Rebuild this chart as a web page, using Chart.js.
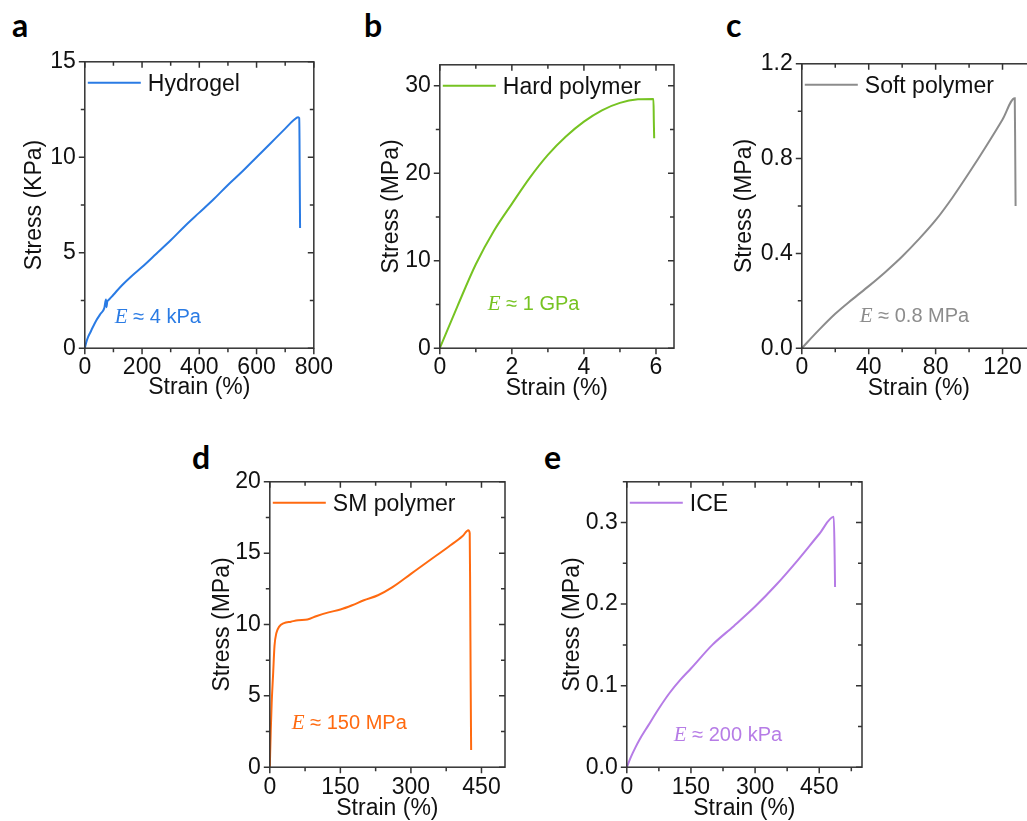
<!DOCTYPE html>
<html>
<head>
<meta charset="utf-8">
<script src="https://cdn.jsdelivr.net/npm/chart.js@4.4.1/dist/chart.umd.min.js"></script>
<style>
  html, body { margin: 0; padding: 0; background: #fff; width: 1027px; height: 821px; overflow: hidden; position: relative; }
  canvas { position: absolute; }
  .tag { position: absolute; font-family: Lato, 'Open Sans', sans-serif; font-weight: 700; font-size: 32px; line-height: 32px; color: #000; }
</style>
</head>
<body>
<div class="tag" style="left:12px;top:9px">a</div>
<div class="tag" style="left:364px;top:9px">b</div>
<div class="tag" style="left:726px;top:9px">c</div>
<div class="tag" style="left:192px;top:441px">d</div>
<div class="tag" style="left:544px;top:441px">e</div>

<canvas id="chartA"></canvas>
<canvas id="chartB"></canvas>
<canvas id="chartC"></canvas>
<canvas id="chartD"></canvas>
<canvas id="chartE"></canvas>

<script>
// --- data ---
const hydrogelStrain = [0, 5, 12, 20, 27, 40, 55, 68, 74, 76, 78, 85, 100, 130, 165, 200, 250, 300, 350, 400, 450, 500, 550, 600, 650, 700, 730, 745, 749, 750, 751, 752];
const hydrogelStress = [0, 0.3, 0.6, 0.85, 1.07, 1.45, 1.8, 2.1, 2.55, 2.15, 2.4, 2.55, 2.8, 3.3, 3.8, 4.25, 4.95, 5.65, 6.4, 7.1, 7.8, 8.55, 9.25, 10.0, 10.75, 11.5, 11.95, 12.1, 12.05, 11.0, 8.5, 6.3];
const hydrogelXTicks = [0, 200, 400, 600, 800];
const hydrogelYTicks = [0, 5, 10, 15];

const hardStrain = [0, 0.5, 1, 1.5, 2, 2.5, 3, 3.5, 4, 4.5, 5, 5.5, 5.93, 5.94, 5.95];
const hardStress = [0, 4.9, 9.6, 13.4, 16.5, 19.5, 22.1, 24.2, 25.9, 27.2, 28.05, 28.45, 28.5, 26, 24.0];
const hardXTicks = [0, 2, 4, 6];
const hardYTicks = [0, 10, 20, 30];

const softStrain = [0, 10, 20, 30, 40, 50, 60, 70, 80, 90, 100, 110, 120, 127.3, 127.6, 127.8];
const softStress = [0, 0.075, 0.145, 0.205, 0.262, 0.322, 0.387, 0.46, 0.54, 0.635, 0.74, 0.85, 0.965, 1.055, 0.8, 0.6];
const softXTicks = [0, 40, 80, 120];
const softYTicks = [0, 0.4, 0.8, 1.2];

const smStrain = [0, 2, 4, 7, 10, 14, 20, 30, 45, 60, 80, 100, 125, 150, 175, 200, 230, 260, 300, 340, 380, 410, 422, 425, 426, 427, 428];
const smStress = [0, 2.5, 4.5, 6.5, 8.5, 9.4, 9.85, 10.1, 10.2, 10.3, 10.35, 10.6, 10.85, 11.05, 11.35, 11.7, 12.05, 12.6, 13.55, 14.5, 15.45, 16.2, 16.6, 16.4, 12, 6, 1.2];
const smXTicks = [0, 150, 300, 450];
const smYTicks = [0, 5, 10, 15, 20];

const iceStrain = [0, 10, 20, 30, 50, 75, 100, 125, 150, 200, 250, 300, 350, 400, 450, 484, 486, 487];
const iceStress = [0, 0.013, 0.024, 0.034, 0.051, 0.072, 0.091, 0.107, 0.121, 0.150, 0.173, 0.197, 0.224, 0.254, 0.286, 0.307, 0.26, 0.221];
const iceXTicks = [0, 150, 300, 450];
const iceYTicks = [0, 0.1, 0.2, 0.3];

Chart.defaults.font.family = "'Liberation Sans', Arial, sans-serif";
Chart.defaults.font.size = 23;
Chart.defaults.color = '#111';

// frame with outward ticks (bottom/left) and mirrored inward ticks (top/right)
const frameTicks = {
  id: 'frameTicks',
  afterDraw(chart) {
    const { ctx, chartArea: a, scales: { x, y } } = chart;
    ctx.save();
    ctx.strokeStyle = '#333';
    ctx.lineWidth = 1.5;
    ctx.strokeRect(a.left, a.top, a.right - a.left, a.bottom - a.top);
    const marks = (scale) => {
      const majors = scale.ticks.map(t => t.value);
      const half = (majors[1] - majors[0]) / 2;
      const out = [];
      for (let v = scale.min; v <= scale.max + 1e-9; v += half) {
        const major = majors.some(m => Math.abs(m - v) < 1e-9);
        out.push({ p: scale.getPixelForValue(v), len: major ? 6 : 4 });
      }
      return out;
    };
    ctx.beginPath();
    marks(x).forEach(m => {
      ctx.moveTo(m.p, a.bottom); ctx.lineTo(m.p, a.bottom + m.len);
      ctx.moveTo(m.p, a.top); ctx.lineTo(m.p, a.top + m.len);
    });
    marks(y).forEach(m => {
      ctx.moveTo(a.left, m.p); ctx.lineTo(a.left - m.len, m.p);
      ctx.moveTo(a.right, m.p); ctx.lineTo(a.right - m.len, m.p);
    });
    ctx.stroke();
    ctx.restore();
  }
};

// legend entry top-left and modulus note
const panelNotes = {
  id: 'panelNotes',
  afterDatasetsDraw(chart, args, o) {
    const { ctx, chartArea: a } = chart;
    const ds = chart.data.datasets[0];
    ctx.save();
    ctx.strokeStyle = ds.borderColor;
    ctx.lineWidth = 2;
    ctx.beginPath();
    ctx.moveTo(a.left + 3, a.top + 21);
    ctx.lineTo(a.left + 56, a.top + 21);
    ctx.stroke();
    ctx.fillStyle = '#111';
    ctx.font = "23px 'Liberation Sans'";
    ctx.textBaseline = 'alphabetic';
    ctx.fillText(ds.label, a.left + 63, a.top + 29);

    const x0 = a.left + o.noteX, y0 = a.bottom - o.noteY;
    ctx.fillStyle = ds.borderColor;
    ctx.font = "italic 21px 'Liberation Serif'";
    ctx.fillText('E', x0, y0);
    const w = ctx.measureText('E').width;
    ctx.font = "20px 'Liberation Sans'";
    ctx.fillText(' \u2248 ' + o.note, x0 + w, y0);
    ctx.restore();
  }
};

function makePanel(p) {
  const [L, T, R, B] = p.box;
  const left = p.titleX - 13.8;
  const top = T - 15;
  const bottom = p.titleY + 13.8;
  const canvas = document.getElementById(p.id);
  canvas.width = Math.round(R - left + 20);
  canvas.height = Math.round(bottom - top);
  canvas.style.left = left + 'px';
  canvas.style.top = top + 'px';

  new Chart(canvas.getContext('2d'), {
    type: 'line',
    data: {
      datasets: [{
        label: p.label,
        data: p.strain.map((s, i) => ({ x: s, y: p.stress[i] })),
        borderColor: p.color,
        borderWidth: 2,
        pointRadius: 0,
        cubicInterpolationMode: 'monotone',
        fill: false
      }]
    },
    options: {
      responsive: false,
      animation: false,
      devicePixelRatio: 1,
      layout: { padding: { top: 15, right: 20, left: 0, bottom: 0 } },
      plugins: {
        legend: { display: false },
        tooltip: { enabled: false },
        panelNotes: { note: p.note, noteX: p.noteX, noteY: p.noteY }
      },
      scales: {
        x: {
          type: 'linear',
          min: 0,
          max: p.xMax,
          grid: { display: false, drawTicks: false },
          border: { display: false },
          afterBuildTicks: s => { s.ticks = p.xTicks.map(v => ({ value: v })); },
          afterFit: s => { s.height = bottom - B; },
          ticks: { padding: p.xPad, maxRotation: 0, callback: v => v.toFixed(p.xDec) },
          title: { display: true, text: 'Strain (%)', padding: 0, font: { size: 23 } }
        },
        y: {
          type: 'linear',
          min: 0,
          max: p.yMax,
          grid: { display: false, drawTicks: false },
          border: { display: false },
          afterBuildTicks: s => { s.ticks = p.yTicks.map(v => ({ value: v })); },
          afterFit: s => { s.width = L - left; },
          ticks: { padding: 9, callback: v => v.toFixed(p.yDec) },
          title: { display: true, text: p.yTitle, padding: 0, font: { size: 23 } }
        }
      }
    },
    plugins: [frameTicks, panelNotes]
  });
}

makePanel({ id: 'chartA', label: 'Hydrogel', color: '#2a7be4', strain: hydrogelStrain, stress: hydrogelStress,
  xTicks: hydrogelXTicks, yTicks: hydrogelYTicks, xMax: 800, yMax: 15, xDec: 0, yDec: 0,
  yTitle: 'Stress (KPa)', note: '4 kPa', box: [85, 54, 319, 348], titleX: 35, titleY: 387, xPad: 6, noteX: 30, noteY: 25 });

makePanel({ id: 'chartB', label: 'Hard polymer', color: '#76c322', strain: hardStrain, stress: hardStress,
  xTicks: hardXTicks, yTicks: hardYTicks, xMax: 6.5, yMax: 32.4, xDec: 0, yDec: 0,
  yTitle: 'Stress (MPa)', note: '1 GPa', box: [440, 57, 674, 348], titleX: 392, titleY: 388, xPad: 6, noteX: 48, noteY: 38 });

makePanel({ id: 'chartC', label: 'Soft polymer', color: '#8c8c8c', strain: softStrain, stress: softStress,
  xTicks: softXTicks, yTicks: softYTicks, xMax: 140, yMax: 1.2, xDec: 0, yDec: 1,
  yTitle: 'Stress (MPa)', note: '0.8 MPa', box: [802, 56, 1036.5, 348], titleX: 745, titleY: 388, xPad: 6, noteX: 58, noteY: 26 });

makePanel({ id: 'chartD', label: 'SM polymer', color: '#ff6a10', strain: smStrain, stress: smStress,
  xTicks: smXTicks, yTicks: smYTicks, xMax: 500, yMax: 20, xDec: 0, yDec: 0,
  yTitle: 'Stress (MPa)', note: '150 MPa', box: [270, 474, 505, 767], titleX: 223, titleY: 808, xPad: 7, noteX: 22, noteY: 38 });

makePanel({ id: 'chartE', label: 'ICE', color: '#b67ce6', strain: iceStrain, stress: iceStress,
  xTicks: iceXTicks, yTicks: iceYTicks, xMax: 550, yMax: 0.35, xDec: 0, yDec: 1,
  yTitle: 'Stress (MPa)', note: '200 kPa', box: [627, 474, 862, 767], titleX: 573, titleY: 808, xPad: 7, noteX: 47, noteY: 26 });
</script>
</body>
</html>
